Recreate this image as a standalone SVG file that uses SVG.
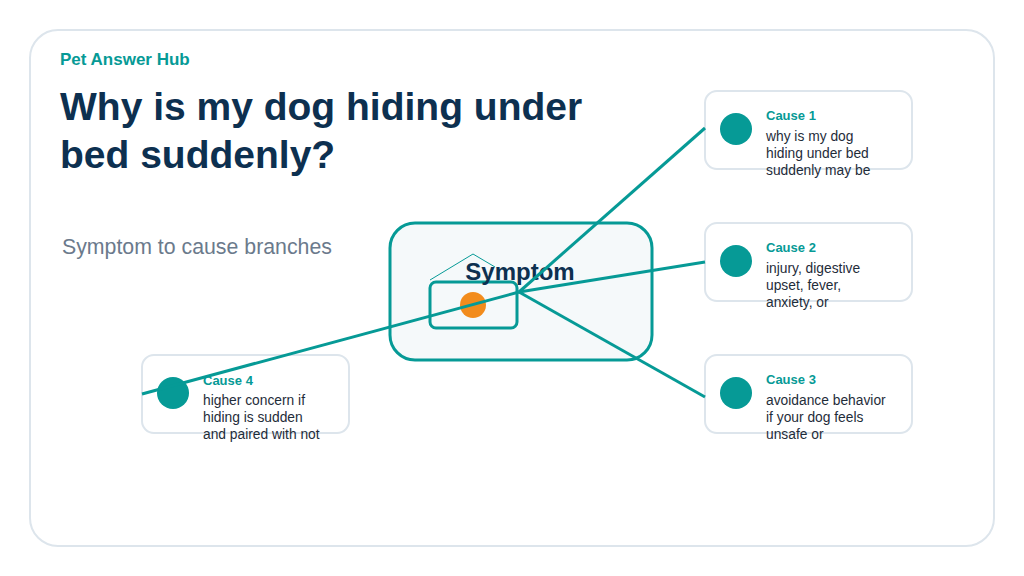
<svg xmlns="http://www.w3.org/2000/svg" width="1024" height="576" viewBox="0 0 1024 576">
<style>
.card{fill:#fff;stroke:#dde5ec;stroke-width:2}
.dot{fill:#069a96}
.ct{font-family:"Liberation Sans",Arial,sans-serif;font-size:13px;font-weight:bold;fill:#069a96}
.cb{font-family:"Liberation Sans",Arial,sans-serif;font-size:13.8px;fill:#1f2d3a}
.ln{stroke:#069a96;stroke-width:3;fill:none}
</style>
<rect width="1024" height="576" fill="#fff"/>
<rect x="30" y="30" width="964" height="516" rx="28" fill="#fff" stroke="#dde5ec" stroke-width="2"/>
<text x="60" y="65" font-family="Liberation Sans,Arial,sans-serif" font-size="17" font-weight="bold" fill="#069a96">Pet Answer Hub</text>
<text font-family="Liberation Sans,Arial,sans-serif" font-size="39" font-weight="bold" fill="#0d3050"><tspan x="60" y="120">Why is my dog hiding under</tspan><tspan x="60" y="168">bed suddenly?</tspan></text>
<text x="62" y="254" font-family="Liberation Sans,Arial,sans-serif" font-size="21.3" fill="#6b7a8c">Symptom to cause branches</text>
<g id="symptom">
<rect x="390" y="223" width="262" height="137" rx="25" fill="#f5f9fa" stroke="#069a96" stroke-width="3"/>
<polyline points="430,280 473,254 495,267" fill="none" stroke="#069a96" stroke-width="1"/>
<rect x="430" y="282" width="87" height="46" rx="6" fill="none" stroke="#069a96" stroke-width="3"/>
<circle cx="473" cy="305" r="13" fill="#f28c1c"/>
<text x="520" y="280" text-anchor="middle" font-family="Liberation Sans,Arial,sans-serif" font-size="24" font-weight="bold" fill="#0d3050">Symptom</text>
</g>
<g id="cause1"><rect class="card" x="705" y="91" width="207" height="78" rx="12"/><circle class="dot" cx="736" cy="129" r="16"/><text class="ct" x="766" y="120">Cause 1</text><text class="cb"><tspan x="766" y="141">why is my dog</tspan><tspan x="766" y="158">hiding under bed</tspan><tspan x="766" y="175">suddenly may be</tspan></text></g>
<g id="cause2"><rect class="card" x="705" y="223" width="207" height="78" rx="12"/><circle class="dot" cx="736" cy="261" r="16"/><text class="ct" x="766" y="252">Cause 2</text><text class="cb"><tspan x="766" y="273">injury, digestive</tspan><tspan x="766" y="290">upset, fever,</tspan><tspan x="766" y="307">anxiety, or</tspan></text></g>
<g id="cause3"><rect class="card" x="705" y="355" width="207" height="78" rx="12"/><circle class="dot" cx="736" cy="393" r="16"/><text class="ct" x="766" y="384">Cause 3</text><text class="cb"><tspan x="766" y="405">avoidance behavior</tspan><tspan x="766" y="422">if your dog feels</tspan><tspan x="766" y="439">unsafe or</tspan></text></g>
<g id="cause4"><rect class="card" x="142" y="355" width="207" height="78" rx="12"/><circle class="dot" cx="173" cy="393" r="16"/><text class="ct" x="203" y="385">Cause 4</text><text class="cb"><tspan x="203" y="405">higher concern if</tspan><tspan x="203" y="422">hiding is sudden</tspan><tspan x="203" y="439">and paired with not</tspan></text></g>
<g id="connectors">
<line class="ln" x1="519" y1="292" x2="705" y2="128"/>
<line class="ln" x1="519" y1="292" x2="705" y2="262"/>
<line class="ln" x1="519" y1="292" x2="705" y2="397"/>
<line class="ln" x1="519" y1="292" x2="142" y2="394"/>
</g>
</svg>
